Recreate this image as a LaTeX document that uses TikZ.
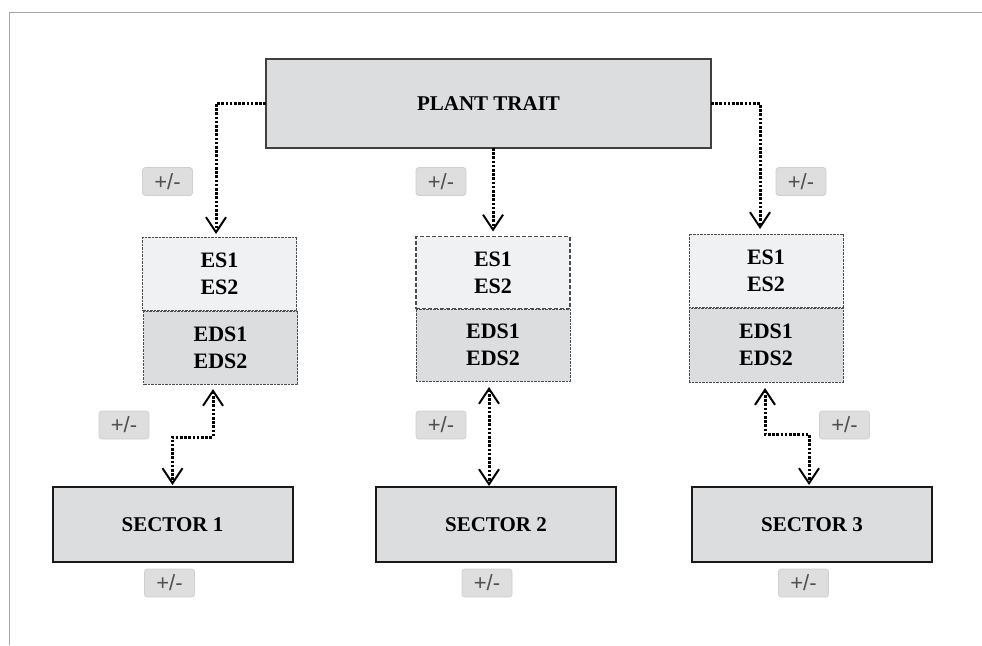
\documentclass[tikz,border=0pt]{standalone}
\usepackage{fontspec}
\setmainfont{Liberation Serif}
\newfontfamily\pmfont{Liberation Sans}
\usetikzlibrary{arrows.meta,calc}
\definecolor{boxgray}{HTML}{DCDDDF}
\definecolor{lightbox}{HTML}{F0F1F2}
\definecolor{framegray}{HTML}{A6A6A6}
\definecolor{pmfill}{HTML}{DEDEDE}
\definecolor{pmdraw}{HTML}{CFCFCF}
\definecolor{pmtext}{HTML}{505050}
\tikzset{
  bigbox/.style={draw=black!75, line width=1.5pt, fill=boxgray, inner sep=0pt, outer sep=0pt,
    font=\fontsize{21}{24}\selectfont\bfseries, text=black},
  sectorbox/.style={draw=black!90, line width=2pt, fill=boxgray, inner sep=0pt, outer sep=0pt,
    font=\fontsize{21}{24}\selectfont\bfseries, text=black, minimum width=240pt, minimum height=75pt},
  esbox/.style={draw=black!70, line width=0.7pt, dash pattern=on 0.8pt off 0.6pt, fill=lightbox,
    inner sep=0pt, outer sep=0pt, align=center,
    font=\fontsize{22}{27}\selectfont\bfseries, text=black, minimum width=154pt},
  edsbox/.style={esbox, fill=boxgray},
  esdash/.style={esbox, line width=1.6pt, dash pattern=on 4pt off 2pt},
  pmbox/.style={draw=pmdraw, line width=0.8pt, fill=pmfill, rounded corners=3pt,
    minimum width=50pt, minimum height=28pt, inner sep=0pt,
    font=\pmfont\fontsize{22}{24}\selectfont, text=pmtext},
  conn/.style={line width=3pt, dash pattern=on 2.6pt off 1.6pt,
    arrows={-Straight Barb[length=15pt,width=20pt,line width=2pt]}},
  biconn/.style={conn, arrows={Straight Barb[length=15pt,width=20pt,line width=2pt]-Straight Barb[length=15pt,width=20pt,line width=2pt]}},
}
\begin{document}
\begin{tikzpicture}[x=1pt,y=-1pt]
\useasboundingbox (0,0) rectangle (982,645);
% frame
\draw[framegray, line width=1.5pt] (9.5,645) -- (9.5,12.5) -- (982,12.5);

% top
\node[bigbox, minimum width=445pt, minimum height=89pt] (pt) at (488.5,103.5) {PLANT TRAIT};

% ES / EDS
\node[esbox, minimum height=73pt] (esA) at (219.5,273.5) {ES1\\ES2};
\node[edsbox, minimum height=73pt] (edsA) at (220.5,347.5) {EDS1\\EDS2};
\node[esdash, minimum height=72pt] (esB) at (493,272.5) {ES1\\ES2};
\node[edsbox, minimum height=72pt] (edsB) at (493,345) {EDS1\\EDS2};
\node[esbox, minimum height=73pt] (esC) at (766,270.5) {ES1\\ES2};
\node[edsbox, minimum height=74pt] (edsC) at (766,345) {EDS1\\EDS2};

% sectors
\node[sectorbox] (secA) at (172.5,524.5) {SECTOR 1};
\node[sectorbox] (secB) at (496,524.5) {SECTOR 2};
\node[sectorbox] (secC) at (812,524.5) {SECTOR 3};

% +/- labels
\node[pmbox] (pmA1) at (167.5,181.5) {+/-};
\node[pmbox] (pmB1) at (441,181.5) {+/-};
\node[pmbox] (pmC1) at (801,181.5) {+/-};
\node[pmbox] (pmA2) at (124,425) {+/-};
\node[pmbox] (pmB2) at (441,425) {+/-};
\node[pmbox] (pmC2) at (844.5,425) {+/-};
\node[pmbox] (pmA3) at (169.5,583) {+/-};
\node[pmbox] (pmB3) at (487,583) {+/-};
\node[pmbox] (pmC3) at (803.5,583) {+/-};

% connectors from plant trait
\draw[conn, shorten >=3pt] (pt.west) -| ([xshift=-3.5pt]esA.north);
\draw[conn, shorten >=5pt] (pt.south -| esB.north) -- (esB.north);
\draw[conn, shorten >=5pt] (pt.east) -| ([xshift=-6pt]esC.north);

% connectors EDS <-> sectors
\draw[biconn, shorten <=5pt, shorten >=2pt] ([xshift=-7.5pt]edsA.south) -- ++(0,53) -| (secA.north);
\draw[biconn, shorten <=6pt, shorten >=1pt] ([xshift=-4pt]edsB.south) -- ([xshift=-4pt]edsB.south |- secB.north);
\draw[biconn, shorten <=6pt, shorten >=2pt] ([xshift=-1pt]edsC.south) -- ++(0,52) -| ([xshift=-3pt]secC.north);
\end{tikzpicture}
\end{document}
